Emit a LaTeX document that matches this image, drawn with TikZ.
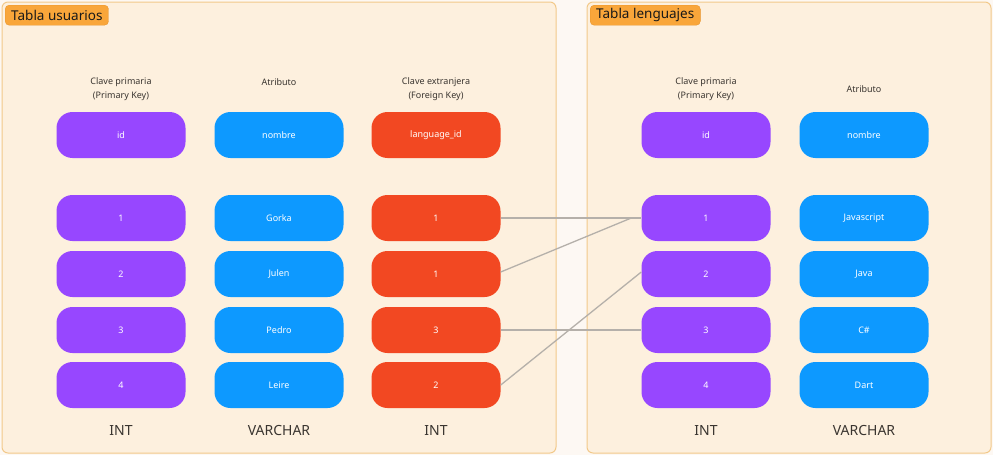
\documentclass[tikz,border=0pt]{standalone}
\usepackage{fontspec}
\setmainfont{Noto Sans}
\definecolor{panelfill}{HTML}{FDF0DE}
\definecolor{panelline}{HTML}{F2C98A}
\definecolor{bgfill}{HTML}{FDF8F3}
\definecolor{tagfill}{HTML}{F9A63A}
\definecolor{tagline}{HTML}{E8962E}
\definecolor{pk}{HTML}{9747FF}
\definecolor{attr}{HTML}{0D99FF}
\definecolor{fk}{HTML}{F24822}
\definecolor{lbl}{HTML}{3A3530}
\definecolor{conn}{HTML}{B5B0AA}
\tikzset{
  panel/.style={draw=panelline, fill=panelfill, line width=1pt, rounded corners=6pt},
  tag/.style={draw=tagline, fill=tagfill, rounded corners=4pt, inner xsep=6pt, inner ysep=0pt, minimum height=20pt, text=black!90, font=\fontsize{13.5}{15}\selectfont, anchor=north west},
  cell/.style={rectangle, rounded corners=16pt, minimum width=129pt, minimum height=46pt, text=white, font=\fontsize{9}{11}\selectfont, inner sep=0pt},
  pkcell/.style={cell, fill=pk},
  atcell/.style={cell, fill=attr},
  fkcell/.style={cell, fill=fk},
  head/.style={text=lbl, font=\fontsize{9}{13.5}\selectfont, align=center},
  typ/.style={text=lbl, font=\fontsize{14}{16}\selectfont},
  link/.style={draw=conn, line width=1.3pt}
}
\begin{document}
\begin{tikzpicture}[x=1pt,y=-1pt]
\useasboundingbox (0,0) rectangle (993,455);
\fill[bgfill] (0,0) rectangle (993,455);
\draw[panel] (2,2) rectangle (556,453);
\draw[panel] (587,2) rectangle (991,453);
\node[tag] (t1) at (5,5) {Tabla usuarios};
\node[tag] (t2) at (590,5) {Tabla lenguajes};
% headers
\node[head] (h1) at (121,89) {Clave primaria\\(Primary Key)};
\node[head] (h2) at (279,82) {Atributo};
\node[head] (h3) at (436,89) {Clave extranjera\\(Foreign Key)};
\node[head] (h4) at (706,89) {Clave primaria\\(Primary Key)};
\node[head] (h5) at (864,89) {Atributo};
% header cells
\node[pkcell] (uid) at (121,135) {id};
\node[atcell] (unom) at (279,135) {nombre};
\node[fkcell] (ulang) at (436,135) {language\_id};
\node[pkcell] (lid) at (706,135) {id};
\node[atcell] (lnom) at (864,135) {nombre};
% usuarios rows
\node[pkcell] (u1) at (121,218) {1};
\node[pkcell] (u2) at (121,274) {2};
\node[pkcell] (u3) at (121,330) {3};
\node[pkcell] (u4) at (121,385) {4};
\node[atcell] (n1) at (279,218) {Gorka};
\node[atcell] (n2) at (279,274) {Julen};
\node[atcell] (n3) at (279,330) {Pedro};
\node[atcell] (n4) at (279,385) {Leire};
\node[fkcell] (f1) at (436,218) {1};
\node[fkcell] (f2) at (436,274) {1};
\node[fkcell] (f3) at (436,330) {3};
\node[fkcell] (f4) at (436,385) {2};
% lenguajes rows
\node[pkcell] (p1) at (706,218) {1};
\node[pkcell] (p2) at (706,274) {2};
\node[pkcell] (p3) at (706,330) {3};
\node[pkcell] (p4) at (706,385) {4};
\node[atcell] (l1) at (864,218) {Javascript};
\node[atcell] (l2) at (864,274) {Java};
\node[atcell] (l3) at (864,330) {C\#};
\node[atcell] (l4) at (864,385) {Dart};
% types
\node[typ] (ty1) at (121,430) {INT};
\node[typ] (ty2) at (279,430) {VARCHAR};
\node[typ] (ty3) at (436,430) {INT};
\node[typ] (ty4) at (706,430) {INT};
\node[typ] (ty5) at (864,430) {VARCHAR};
% connectors
\coordinate (j1) at ([xshift=-10pt]p1.west);
\draw[link] (f1.east) -- (p1.west);
\draw[link] ([yshift=2pt]f2.east) -- (j1);
\draw[link] (f3.east) -- (p3.west);
\draw[link] (f4.east) -- ([yshift=2pt]p2.west);
\end{tikzpicture}
\end{document}
